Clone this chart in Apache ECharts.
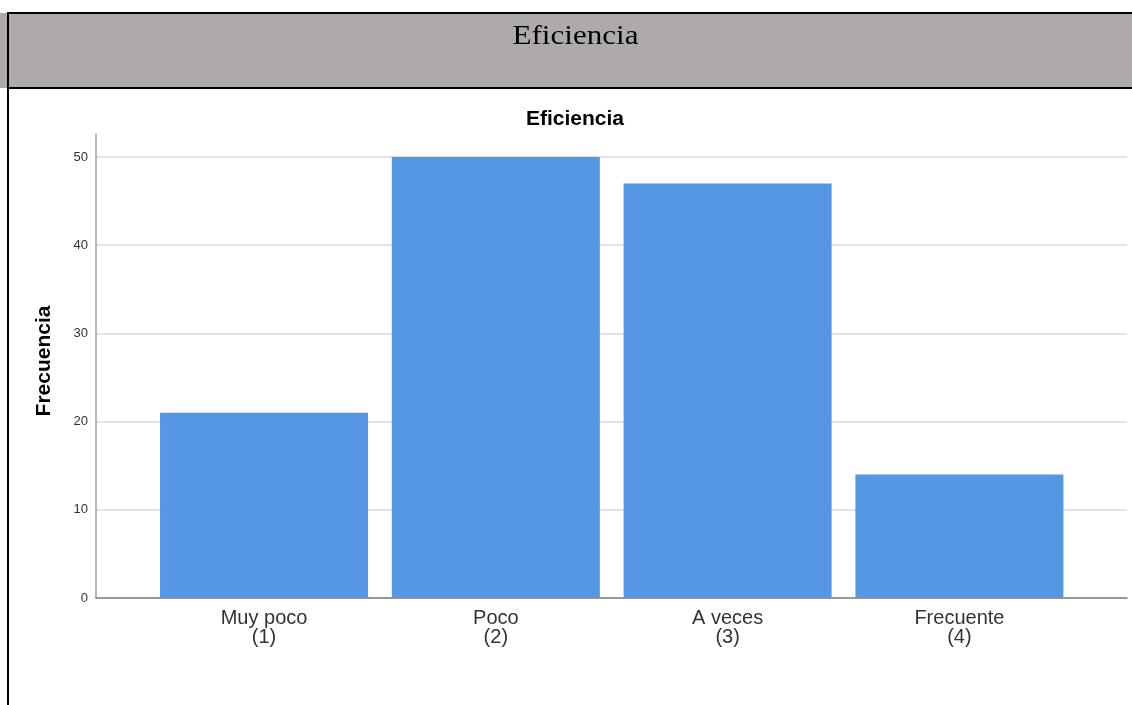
<!DOCTYPE html>
<html>
<head>
<meta charset="utf-8">
<script src="https://cdn.jsdelivr.net/npm/echarts@6/dist/echarts.min.js"></script>
<style>
html,body{margin:0;padding:0;background:#fff;}
#chart{width:1132px;height:705px;}
</style>
</head>
<body>
<div id="chart"></div>
<script>
const categories = ['Muy poco', 'Poco', 'A veces', 'Frecuente'];
const codes = ['(1)', '(2)', '(3)', '(4)'];
const frecuencia = [21, 50, 47, 14];
const yTicks = [0, 10, 20, 30, 40, 50];
const headerTitle = 'Eficiencia';
const chartTitle = 'Eficiencia';
const yAxisName = 'Frecuencia';

const chart = echarts.init(document.getElementById('chart'), null, {renderer: 'canvas'});
const sans = '"Liberation Sans", Arial, sans-serif';

const option = {
  animation: false,
  backgroundColor: '#ffffff',
  grid: {left: 96, right: 5, top: 134, bottom: 107, containLabel: false},
  graphic: [
    {type: 'rect', z: 0, shape: {x: 0, y: 13, width: 1132, height: 75}, style: {fill: '#aeaaa9'}},
    {type: 'line', z: 1, shape: {x1: 7, y1: 13, x2: 1132, y2: 13}, style: {stroke: '#000', lineWidth: 2}},
    {type: 'line', z: 1, shape: {x1: 7, y1: 88, x2: 1132, y2: 88}, style: {stroke: '#000', lineWidth: 2}},
    {type: 'line', z: 1, shape: {x1: 8, y1: 12, x2: 8, y2: 705}, style: {stroke: '#000', lineWidth: 2}},
    {type: 'text', z: 2, x: 575.5, y: 37, scaleX: 1.11, style: {text: headerTitle, font: '28px "Liberation Serif", "Times New Roman", serif', fill: '#000', align: 'center', verticalAlign: 'middle'}},
    {type: 'text', z: 2, x: 575, y: 119, style: {text: chartTitle, font: 'bold 21px ' + sans, fill: '#000', align: 'center', verticalAlign: 'middle'}}
  ],
  xAxis: {
    type: 'value',
    min: -0.725,
    max: 3.723,
    splitLine: {show: false},
    axisTick: {show: false},
    axisLine: {show: true, onZero: false, lineStyle: {color: '#7f7f7f', width: 1.5}},
    axisLabel: {
      customValues: [0, 1, 2, 3],
      formatter: function (v) { const i = Math.round(v); return categories[i] + '\n' + codes[i]; },
      fontFamily: sans, fontSize: 20, lineHeight: 19, color: '#333', margin: 11
    }
  },
  yAxis: {
    type: 'value',
    min: 0,
    max: 52.6,
    interval: 10,
    name: yAxisName,
    nameLocation: 'middle',
    nameRotate: 90,
    nameGap: 41,
    nameTextStyle: {fontFamily: sans, fontSize: 21, fontWeight: 'bold', color: '#000', padding: [0, 0, 0, 10]},
    axisLine: {show: true, onZero: false, lineStyle: {color: '#a0a0a0', width: 1.5}},
    axisTick: {show: false},
    axisLabel: {
      showMaxLabel: false,
      formatter: function (v) { return yTicks.indexOf(v) >= 0 ? String(v) : ''; },
      fontFamily: sans, fontSize: 13, color: '#333', margin: 8
    },
    splitLine: {show: true, lineStyle: {color: ['#dadada', '#dadada', '#dadada', '#dadada', '#dadada', '#dadada', 'rgba(0,0,0,0)'], width: 1.5}}
  },
  series: [{
    type: 'bar',
    data: frecuencia.map((v, i) => [i, v]),
    barWidth: 208,
    itemStyle: {color: '#5596e5'},
    z: 1
  }]
};
chart.setOption(option);
</script>
</body>
</html>
